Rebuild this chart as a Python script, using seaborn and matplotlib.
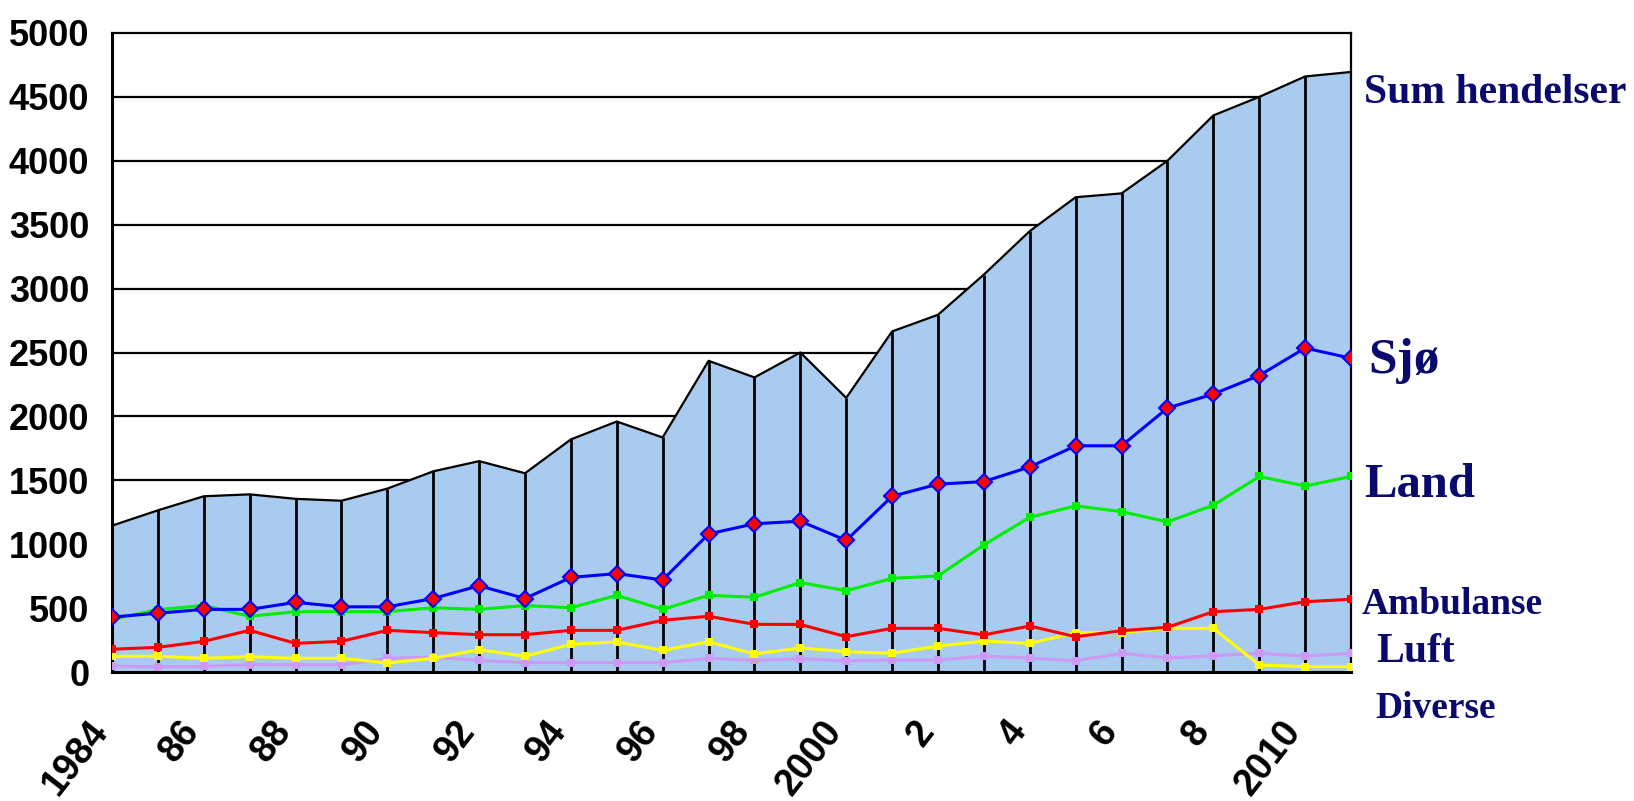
import matplotlib
matplotlib.use('Agg')
import matplotlib.pyplot as plt
import matplotlib.transforms as mtransforms
import seaborn as sns
import pandas as pd

years = list(range(1984, 2012))
sum_hendelser = [1145, 1265, 1375, 1390, 1355, 1340, 1435, 1570, 1650, 1555, 1820, 1960, 1835, 2435,
                 2305, 2500, 2145, 2665, 2795, 3110, 3450, 3715, 3745, 4000, 4355, 4500, 4660, 4695]
sjo = [430, 460, 490, 490, 545, 510, 510, 575, 675, 575, 740, 770, 720, 1080,
       1160, 1180, 1030, 1375, 1470, 1490, 1605, 1770, 1770, 2065, 2175, 2320, 2535, 2455]
land = [412, 488, 520, 436, 472, 472, 472, 503, 490, 520, 503, 600, 490, 600,
        585, 700, 636, 733, 751, 995, 1210, 1300, 1255, 1175, 1305, 1530, 1455, 1530]
ambulanse = [178, 193, 240, 326, 224, 240, 326, 308, 292, 292, 326, 326, 405, 436,
             373, 372, 276, 342, 342, 290, 360, 276, 323, 350, 472, 490, 550, 569]
luft = [123, 123, 107, 120, 107, 107, 71, 107, 175, 123, 217, 236, 170, 236,
        141, 188, 159, 146, 203, 242, 224, 308, 308, 342, 342, 55, 42, 42]
diverse = [47, 41, 44, 57, 57, 57, 107, 117, 91, 73, 73, 73, 73, 107,
           91, 104, 88, 94, 94, 125, 109, 88, 146, 110, 127, 146, 125, 146]
year_labels = ['1984', '', '86', '', '88', '', '90', '', '92', '', '94', '', '96', '',
               '98', '', '2000', '', '2', '', '4', '', '6', '', '8', '', '2010', '']
y_ticks = [0, 500, 1000, 1500, 2000, 2500, 3000, 3500, 4000, 4500, 5000]

df = pd.DataFrame({'year': years, 'Sum': sum_hendelser, 'Sjø': sjo, 'Land': land,
                   'Ambulanse': ambulanse, 'Luft': luft, 'Diverse': diverse})

sns.set_style('white')
plt.rcParams['font.family'] = ['Liberation Sans', 'DejaVu Sans']
plt.rcParams['text.color'] = 'black'
plt.rcParams['xtick.color'] = 'black'
plt.rcParams['ytick.color'] = 'black'

W, H = 1634, 801
fig = plt.figure(figsize=(W / 100, H / 100), dpi=100)
ax = fig.add_axes([112 / W, 1 - 672 / H, (1351 - 112) / W, (672 - 33) / H])

fill_col = '#A9CBEF'
ax.hlines(y_ticks[1:-1], years[0], years[-1], colors='black', linewidth=1.6, zorder=1)
ax.fill_between(df['year'], 0, df['Sum'], color=fill_col, linewidth=0, zorder=2)
ax.vlines(df['year'], 0, df['Sum'], colors='black', linewidth=2.0, zorder=3)
sns.lineplot(data=df, x='year', y='Sum', color='black', linewidth=1.6, ax=ax, zorder=4)

sq = dict(marker='s', markersize=6, markeredgewidth=0)
sns.lineplot(data=df, x='year', y='Diverse', color='#CC99F5', linewidth=2.2, ax=ax, zorder=5,
             markerfacecolor='#CC99F5', **sq)
sns.lineplot(data=df, x='year', y='Luft', color='#FFFF00', linewidth=2.2, ax=ax, zorder=6,
             markerfacecolor='#FFFF00', **sq)
sns.lineplot(data=df, x='year', y='Ambulanse', color='#FF0000', linewidth=2.2, ax=ax, zorder=7,
             markerfacecolor='#FF0000', **sq)
sns.lineplot(data=df, x='year', y='Land', color='#00EE00', linewidth=2.2, ax=ax, zorder=8,
             markerfacecolor='#00EE00', **sq)
sns.lineplot(data=df, x='year', y='Sjø', color='#0000FF', linewidth=2.2, ax=ax, zorder=9,
             marker='D', markersize=8, markerfacecolor='#FF0000', markeredgecolor='#0000FF',
             markeredgewidth=1.5)

ax.set_xlim(years[0], years[-1])
ax.set_ylim(0, 5000)
ax.set_xlabel('')
ax.set_ylabel('')
ax.set_yticks(y_ticks)
ax.set_yticklabels([str(v) for v in y_ticks], fontsize=26, fontweight='bold', color='black')
ax.set_xticks(years)
ax.set_xticklabels(year_labels, fontsize=27, fontweight='bold', rotation=52, color='black',
                   ha='right', va='top', rotation_mode='anchor')
ax.tick_params(axis='y', direction='out', length=7.2, width=1.5, colors='black', pad=9)
ax.tick_params(axis='x', direction='out', length=9.4, width=1.5, colors='black', pad=21)
offset = mtransforms.ScaledTranslation(-0.25, 0, fig.dpi_scale_trans)
for lab in ax.get_xticklabels():
    lab.set_transform(lab.get_transform() + offset)
for s in ax.spines.values():
    s.set_visible(True)
    s.set_color('black')
    s.set_linewidth(1.6)
ax.spines['left'].set_linewidth(2.2)
ax.spines['bottom'].set_linewidth(2.2)
ax.grid(False)
ax.set_facecolor('white')

navy = '#0A0A6E'
serif = ['Liberation Serif', 'DejaVu Serif']
labels = [('Sum hendelser', 1364, 93, 30), ('Sjø', 1368, 361, 37), ('Land', 1364, 485, 35),
          ('Ambulanse', 1362, 605, 27), ('Luft', 1376, 652, 30), ('Diverse', 1375, 709, 27)]
for txt, x, y, fs in labels:
    fig.text(x / W, 1 - y / H, txt, color=navy, fontsize=fs, fontweight='bold',
             family=serif, ha='left', va='center')

fig.savefig('out.png', dpi=100)
